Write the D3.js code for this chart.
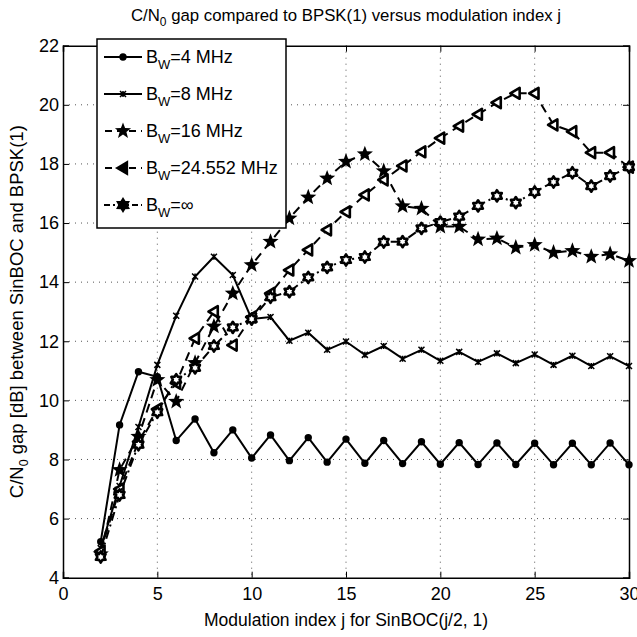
<!DOCTYPE html>
<html>
<head>
<meta charset="utf-8">
<script src="https://cdn.jsdelivr.net/npm/d3@7"></script>
<style>
  body { margin: 0; background: #fff; }
  text { font-family: "Liberation Sans", Arial, sans-serif; fill: #000; }
</style>
</head>
<body>
<div class="canvas"></div>
<script>
// DATA ---------------------------------------------------------------------------
const jIndex = [2, 3, 4, 5, 6, 7, 8, 9, 10, 11, 12, 13, 14, 15, 16, 17, 18, 19, 20, 21, 22, 23, 24, 25, 26, 27, 28, 29, 30];
const bw4 = [5.22, 9.17, 10.97, 10.8, 8.64, 9.37, 8.23, 9.0, 8.05, 8.83, 7.96, 8.74, 7.91, 8.69, 7.87, 8.64, 7.86, 8.60, 7.84, 8.57, 7.83, 8.56, 7.83, 8.55, 7.82, 8.55, 7.82, 8.56, 7.82];
const bw8 = [5.0, 7.1, 9.1, 11.2, 12.86, 14.19, 14.86, 14.24, 12.75, 12.82, 12.02, 12.29, 11.71, 11.99, 11.54, 11.84, 11.41, 11.71, 11.34, 11.64, 11.30, 11.59, 11.26, 11.55, 11.20, 11.51, 11.16, 11.49, 11.16];
const bw16 = [4.8, 7.65, 8.77, 10.69, 9.96, 11.27, 12.5, 13.62, 14.58, 15.37, 16.16, 16.87, 17.51, 18.08, 18.33, 17.76, 16.57, 16.49, 15.88, 15.88, 15.45, 15.48, 15.17, 15.26, 15.0, 15.06, 14.86, 14.95, 14.72];
const bw24 = [4.9, 7.0, 8.6, 9.7, 10.58, 12.1, 13.0, 11.87, 12.82, 13.62, 14.41, 15.09, 15.77, 16.38, 16.95, 17.46, 17.93, 18.41, 18.87, 19.28, 19.68, 20.07, 20.39, 20.39, 19.32, 19.09, 18.38, 18.38, 17.89];
const bwInf = [4.7, 6.8, 8.5, 9.6, 10.7, 11.1, 11.84, 12.47, 12.75, 13.49, 13.68, 14.16, 14.5, 14.75, 14.85, 15.36, 15.37, 15.82, 16.03, 16.22, 16.58, 16.92, 16.69, 17.05, 17.39, 17.70, 17.25, 17.59, 17.89];

const xTicks = [0, 5, 10, 15, 20, 25, 30];
const yTicks = [4, 6, 8, 10, 12, 14, 16, 18, 20, 22];
const legendNames = ['4 MHz', '8 MHz', '16 MHz', '24.552 MHz', '∞'];

// SET UP GRAPH -------------------------------------------------------------------
const W = 637, H = 637;
const margin = { top: 45.7, right: 8, bottom: 59.3, left: 63 };
const graphWidth = W - margin.left - margin.right;
const graphHeight = H - margin.top - margin.bottom;

const svg = d3.select('.canvas')
    .append('svg')
        .attr('width', W)
        .attr('height', H);

const graph = svg.append('g')
    .attr('transform', `translate(${margin.left}, ${margin.top})`);

const x = d3.scaleLinear().domain([0, 30]).range([0, graphWidth]);
const y = d3.scaleLinear().domain([4, 22]).range([graphHeight, 0]);

// Dotted grid
graph.append('g').selectAll('line')
    .data(xTicks.slice(1, -1))
    .enter().append('line')
        .attr('x1', d => x(d)).attr('x2', d => x(d))
        .attr('y1', 0).attr('y2', graphHeight)
        .attr('stroke', '#555').attr('stroke-width', 1)
        .attr('stroke-dasharray', '1,5');
graph.append('g').selectAll('line')
    .data(yTicks.slice(1, -1))
    .enter().append('line')
        .attr('y1', d => y(d)).attr('y2', d => y(d))
        .attr('x1', 0).attr('x2', graphWidth)
        .attr('stroke', '#555').attr('stroke-width', 1)
        .attr('stroke-dasharray', '1,5');

// Axes (ticks pointing inward, box around)
const xAxis = d3.axisBottom(x).tickValues(xTicks).tickSize(-6).tickPadding(10);
const yAxis = d3.axisLeft(y).tickValues(yTicks).tickSize(-6).tickPadding(4);
const xAxisTop = d3.axisTop(x).tickValues(xTicks).tickSize(-6).tickFormat('');
const yAxisRight = d3.axisRight(y).tickValues(yTicks).tickSize(-6).tickFormat('');

[
  graph.append('g').attr('transform', `translate(0, ${graphHeight})`).call(xAxis),
  graph.append('g').call(yAxis),
  graph.append('g').call(xAxisTop),
  graph.append('g').attr('transform', `translate(${graphWidth}, 0)`).call(yAxisRight)
].forEach(g => {
    g.select('.domain').attr('stroke', '#000').attr('stroke-width', 1.5);
    g.selectAll('.tick line').attr('stroke', '#000').attr('stroke-width', 1);
    g.selectAll('text').style('font-size', '18px').attr('fill', '#000')
        .style('font-family', '"Liberation Sans", Arial, sans-serif');
});

// MARKERS ------------------------------------------------------------------------
function starPath(r, points, innerRatio) {
    const pts = [];
    for (let i = 0; i < points * 2; i++) {
        const rad = i % 2 === 0 ? r : r * innerRatio;
        const a = -Math.PI / 2 + i * Math.PI / points;
        pts.push([rad * Math.cos(a), rad * Math.sin(a)]);
    }
    return 'M' + pts.map(p => p.join(',')).join('L') + 'Z';
}
const leftTri = r => `M${-r},0L${r * 0.7},${-r}L${r * 0.7},${r}Z`;

const series = [
    { values: bw4, dash: null, marker: 'M0,0m-3.7,0a3.7,3.7 0 1,0 7.4,0a3.7,3.7 0 1,0 -7.4,0', fill: '#000', mstroke: 0 },
    { values: bw8, dash: null, marker: 'M-3,-3L3,3M-3,3L3,-3M0,-3L0,3', fill: 'none', mstroke: 1.5 },
    { values: bw16, dash: '9,6', marker: starPath(8.5, 5, 0.42), fill: '#000', mstroke: 0 },
    { values: bw24, dash: '9,6', marker: leftTri(5.5), fill: '#fff', mstroke: 2.6 },
    { values: bwInf, dash: '9,4,2,4', marker: starPath(5.6, 6, 0.6), fill: '#fff', mstroke: 2.6 }
];

const line = d3.line()
    .x(d => x(d[0]))
    .y(d => y(d[1]));

series.forEach(s => {
    const pts = jIndex.map((j, i) => [j, s.values[i]]);
    graph.append('path')
        .datum(pts)
        .attr('d', line)
        .attr('fill', 'none')
        .attr('stroke', '#000')
        .attr('stroke-width', 2)
        .attr('stroke-dasharray', s.dash);
    graph.append('g').selectAll('path')
        .data(pts)
        .enter().append('path')
            .attr('transform', d => `translate(${x(d[0])}, ${y(d[1])})`)
            .attr('d', s.marker)
            .attr('fill', s.fill)
            .attr('stroke', '#000')
            .attr('stroke-width', s.mstroke)
            .attr('stroke-linejoin', 'round');
});

// LEGEND -------------------------------------------------------------------------
const legend = svg.append('g').attr('transform', 'translate(97, 39)');
legend.append('rect')
    .attr('width', 189).attr('height', 189)
    .attr('fill', '#fff').attr('stroke', '#000').attr('stroke-width', 1.5);

legendNames.forEach((name, i) => {
    const s = series[i];
    const ly = 18 + i * 37;
    const row = legend.append('g').attr('transform', `translate(0, ${ly})`);
    row.append('line')
        .attr('x1', 7).attr('x2', 45).attr('y1', 0).attr('y2', 0)
        .attr('stroke', '#000').attr('stroke-width', 2)
        .attr('stroke-dasharray', s.dash ? (i === 4 ? '6,3,2,3' : '7,5') : null)
        .attr('stroke-dashoffset', i === 4 ? 0 : -1);
    row.append('path')
        .attr('transform', 'translate(26, 0)')
        .attr('d', s.marker)
        .attr('fill', i === 3 || i === 4 ? '#000' : s.fill)
        .attr('stroke', '#000')
        .attr('stroke-width', s.mstroke);
    const t = row.append('text')
        .attr('x', 49).attr('y', 6)
        .style('font-size', '18px');
    t.append('tspan').text('B');
    t.append('tspan').attr('dy', 6).style('font-size', '13px').text('W');
    t.append('tspan').attr('dy', -6).text('=' + name);
});

// TITLES -------------------------------------------------------------------------
const title = svg.append('text')
    .attr('text-anchor', 'middle')
    .attr('x', margin.left + graphWidth / 2)
    .attr('y', 21)
    .style('font-size', '16.8px');
title.append('tspan').text('C/N');
title.append('tspan').attr('dy', 5).style('font-size', '12px').text('0');
title.append('tspan').attr('dy', -5).text(' gap compared to BPSK(1) versus modulation index j');

svg.append('text')
    .attr('text-anchor', 'middle')
    .attr('x', margin.left + graphWidth / 2)
    .attr('y', 626)
    .style('font-size', '17.5px')
    .text('Modulation index j for SinBOC(j/2, 1)');

const yTitle = svg.append('text')
    .attr('text-anchor', 'middle')
    .attr('transform', `translate(23, ${margin.top + graphHeight / 2}) rotate(-90)`)
    .style('font-size', '18.5px');
yTitle.append('tspan').text('C/N');
yTitle.append('tspan').attr('dy', 5).style('font-size', '12.5px').text('0');
yTitle.append('tspan').attr('dy', -5).text(' gap [dB] between SinBOC  and BPSK(1)');
</script>
</body>
</html>
